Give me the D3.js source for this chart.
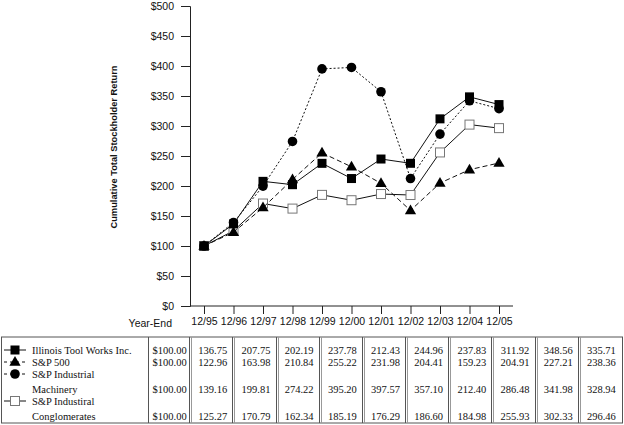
<!DOCTYPE html>
<html><head><meta charset="utf-8">
<script src="https://cdn.jsdelivr.net/npm/d3@7"></script>
<style>body{margin:0;background:#fff}svg{display:block}</style>
</head><body>
<svg id="c" width="624" height="425"></svg>
<script>
const years = ["12/95","12/96","12/97","12/98","12/99","12/00","12/01","12/02","12/03","12/04","12/05"];
const itw = [100.00,136.75,207.75,202.19,237.78,212.43,244.96,237.83,311.92,348.56,335.71];
const sp500 = [100.00,122.96,163.98,210.84,255.22,231.98,204.41,159.23,204.91,227.21,238.36];
const machinery = [100.00,139.16,199.81,274.22,395.20,397.57,357.10,212.40,286.48,341.98,328.94];
const conglomerates = [100.00,125.27,170.79,162.34,185.19,176.29,186.60,184.98,255.93,302.33,296.46];
const yTicks = [0,50,100,150,200,250,300,350,400,450,500];
const seriesNames = [["Illinois Tool Works Inc."],["S&P 500"],["S&P Industrial","Machinery"],["S&P Industiral","Conglomerates"]];

const series = [
  {key:"conglomerates", vals:conglomerates, dash:null, marker:"hsquare", leg:3},
  {key:"sp500", vals:sp500, dash:"5,3", marker:"triangle", leg:1},
  {key:"machinery", vals:machinery, dash:"2,2", marker:"circle", leg:2},
  {key:"itw", vals:itw, dash:null, marker:"square", leg:0}
];

const svg = d3.select("#c");
const sans = "'Liberation Sans', Arial, Helvetica, sans-serif";
const serif = "'Liberation Serif', 'Times New Roman', serif";

const x = d3.scalePoint().domain(years).range([204, 499]);
const y = d3.scaleLinear().domain([0, 500]).range([306, 6]);

// y axis
const ya = svg.append("g").attr("transform","translate(190,0)")
  .call(d3.axisLeft(y).tickValues(yTicks).tickSize(9).tickPadding(7).tickFormat(d => "$" + d));
ya.select(".domain").attr("stroke","#222");
ya.selectAll(".tick line").attr("stroke","#222");
ya.selectAll("text").attr("font-family", sans).attr("font-size", 10.5).attr("fill","#111");

// x axis
const xa = svg.append("g").attr("transform","translate(0,306)")
  .call(d3.axisBottom(x).tickSize(8).tickPadding(4));
xa.select(".domain").remove();
xa.append("line").attr("x1",190).attr("x2",513).attr("y1",0).attr("y2",0).attr("stroke","#222");
xa.selectAll(".tick line").attr("stroke","#222");
xa.selectAll("text").attr("font-family", sans).attr("font-size", 10.5).attr("fill","#111");
svg.append("text").attr("x",172).attr("y",327).attr("text-anchor","end")
  .attr("font-family",sans).attr("font-size",10.5).attr("fill","#111").text("Year-End");

// y label
svg.append("text").attr("transform","translate(117,147) rotate(-90)").attr("text-anchor","middle")
  .attr("font-family",sans).attr("font-size",9.3).attr("font-weight","bold").attr("fill","#111")
  .text("Cumulative Total Stockholder Return");

function drawMarker(g, type, cx, cy) {
  if (type === "square") {
    g.append("rect").attr("x",cx-4.5).attr("y",cy-4.5).attr("width",9).attr("height",9).attr("fill","#000");
  } else if (type === "hsquare") {
    g.append("rect").attr("x",cx-4.5).attr("y",cy-4.5).attr("width",9).attr("height",9)
      .attr("fill","#fff").attr("stroke","#777").attr("stroke-width",1);
  } else if (type === "circle") {
    g.append("circle").attr("cx",cx).attr("cy",cy).attr("r",4.8).attr("fill","#000");
  } else if (type === "triangle") {
    g.append("path").attr("d", d3.symbol().type(d3.symbolTriangle).size(55)()).attr("transform",`translate(${cx},${cy+0.5})`).attr("fill","#000");
  }
}

const line = d3.line().x((d,i) => x(years[i])).y(d => y(d));
series.forEach(s => {
  const g = svg.append("g");
  g.append("path").datum(s.vals).attr("d", line).attr("fill","none").attr("stroke","#111")
    .attr("stroke-width",1).attr("stroke-dasharray", s.dash);
  s.vals.forEach((v,i) => drawMarker(g, s.marker, x(years[i]), y(v)));
});

// table
const tTop = 337, tBot = 423;
const cols = d3.scaleBand().domain(years).range([148, 623]);
const t = svg.append("g");
t.append("line").attr("x1",1).attr("x2",623).attr("y1",tTop).attr("y2",tTop).attr("stroke","#555");
t.append("line").attr("x1",1).attr("x2",623).attr("y1",tBot).attr("y2",tBot).attr("stroke","#555");
t.append("line").attr("x1",1.5).attr("x2",1.5).attr("y1",tTop).attr("y2",tBot).attr("stroke","#555");
t.append("line").attr("x1",622.5).attr("x2",622.5).attr("y1",tTop).attr("y2",tBot).attr("stroke","#555");
t.append("line").attr("x1",148.5).attr("x2",148.5).attr("y1",tTop).attr("y2",tBot).attr("stroke","#555");
years.slice(1).forEach(yr => {
  const bx = Math.round(cols(yr));
  t.append("line").attr("x1",bx-1.5).attr("x2",bx-1.5).attr("y1",tTop).attr("y2",tBot).attr("stroke","#555");
  t.append("line").attr("x1",bx+0.5).attr("x2",bx+0.5).attr("y1",tTop).attr("y2",tBot).attr("stroke","#999");
});

const rowY = d3.scaleOrdinal().domain([0,1,2,3]).range([354, 366, 393, 420]);
const nameY = [[354],[366],[378,393],[405,420]];
const legY = [350, 362, 374, 401];
const legOrder = [series[3], series[1], series[2], series[0]];
legOrder.forEach((s, k) => {
  const lg = t.append("g");
  lg.append("line").attr("x1",4).attr("x2",26).attr("y1",legY[k]).attr("y2",legY[k])
    .attr("stroke","#111").attr("stroke-dasharray", s.dash ? "3,3" : null);
  drawMarker(lg, s.marker, 15, legY[k]);
  seriesNames[k].forEach((nm, j) => {
    t.append("text").attr("x",32).attr("y",nameY[k][j]).attr("font-family",serif).attr("font-size",10.5)
      .attr("fill","#111").text(nm);
  });
  s.vals.forEach((v,i) => {
    t.append("text").attr("x", cols(years[i]) + cols.bandwidth()/2).attr("y", rowY(k))
      .attr("text-anchor","middle").attr("font-family",serif).attr("font-size",10.5).attr("fill","#111")
      .text(i === 0 ? "$" + v.toFixed(2) : v.toFixed(2));
  });
});
</script>
</body></html>
